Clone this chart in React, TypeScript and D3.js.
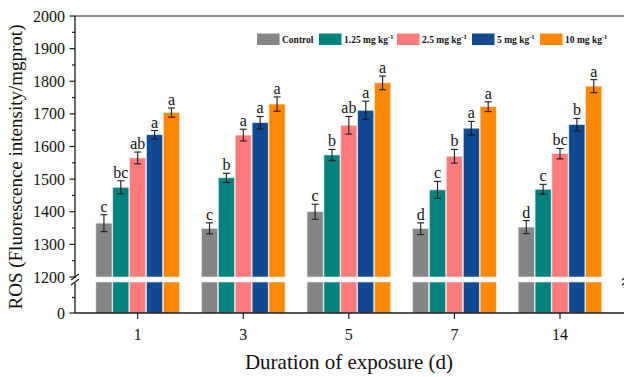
import React from 'react';
import * as d3 from 'd3';

const days = ['1', '3', '5', '7', '14'];
const seriesNames = ['Control', '1.25 mg kg', '2.5 mg kg', '5 mg kg', '10 mg kg'];
const seriesSup = ['', '-1', '-1', '-1', '-1'];
const colors = ['#858585', '#00837E', '#FF7B7B', '#0F4A92', '#FF8800'];

const controlMean = [1365, 1349, 1400, 1348, 1353];
const controlErr = [26, 17, 23, 18, 20];
const controlSig = ['c', 'c', 'c', 'd', 'd'];

const dose125Mean = [1475, 1504, 1574, 1467, 1469];
const dose125Err = [20, 14, 17, 26, 15];
const dose125Sig = ['bc', 'b', 'b', 'c', 'c'];

const dose25Mean = [1565, 1635, 1665, 1570, 1578];
const dose25Err = [18, 18, 27, 21, 16];
const dose25Sig = ['ab', 'a', 'ab', 'b', 'bc'];

const dose5Mean = [1636, 1673, 1711, 1656, 1667];
const dose5Err = [13, 19, 28, 21, 19];
const dose5Sig = ['a', 'a', 'a', 'a', 'b'];

const dose10Mean = [1704, 1730, 1795, 1722, 1785];
const dose10Err = [14, 22, 21, 15, 20];
const dose10Sig = ['a', 'a', 'a', 'a', 'a'];

const upperTicks = [1200, 1300, 1400, 1500, 1600, 1700, 1800, 1900, 2000];
const upperMinor = [1250, 1350, 1450, 1550, 1650, 1750, 1850, 1950];
const lowerTicks = [0];
const lowerMinor = [50];

const means = [controlMean, dose125Mean, dose25Mean, dose5Mean, dose10Mean];
const errs = [controlErr, dose125Err, dose25Err, dose5Err, dose10Err];
const sigs = [controlSig, dose125Sig, dose25Sig, dose5Sig, dose10Sig];

const FONT = '"Liberation Serif", "Times New Roman", serif';

export default function App() {
  const W = 624;
  const H = 377;
  const axisX = 75;
  const yUp = d3.scaleLinear().domain([1200, 2000]).range([277, 16]);
  const yLo = d3.scaleLinear().domain([0, 100]).range([313, 282]);
  const x = d3.scalePoint<string>().domain(days).range([137.7, 560]).padding(0);
  const inner = d3.scaleBand<number>().domain([0, 1, 2, 3, 4]).range([-42.2, 42.2]).padding(0);
  const bw = inner.bandwidth();
  const stroke = '#1a1a1a';

  const legendX = [257, 319, 397, 472, 540];

  return (
    <svg width={W} height={H} style={{ position: 'absolute', left: 0, top: 0, background: '#fff' }} fontFamily={FONT}>
      <rect width={W} height={H} fill="#fff" />
      {/* bars */}
      {days.map((d, di) =>
        means.map((m, si) => {
          const bx = (x(d) as number) + (inner(si) as number);
          const v = m[di];
          const e = errs[si][di];
          const cx = bx + bw / 2;
          const top = yUp(v + e);
          const bot = yUp(v - e);
          return (
            <g key={`${di}-${si}`}>
              <rect x={bx + 0.4} y={yUp(v)} width={bw - 0.8} height={yUp(1200) - yUp(v)} fill={colors[si]} stroke="#e8e8e8" strokeWidth={0.6} />
              <rect x={bx + 0.4} y={yLo(100)} width={bw - 0.8} height={yLo(0) - yLo(100)} fill={colors[si]} stroke="#e8e8e8" strokeWidth={0.6} />
              <line x1={cx} x2={cx} y1={top} y2={bot} stroke={stroke} strokeWidth={1.1} />
              <line x1={cx - 3.5} x2={cx + 3.5} y1={top} y2={top} stroke={stroke} strokeWidth={1.1} />
              <line x1={cx - 3.5} x2={cx + 3.5} y1={bot} y2={bot} stroke={stroke} strokeWidth={1.1} />
              <text x={cx} y={top - 3} textAnchor="middle" fontSize={16} fill="#111">{sigs[si][di]}</text>
            </g>
          );
        })
      )}
      {/* frame */}
      <line x1={axisX} x2={W} y1={yUp(2000)} y2={yUp(2000)} stroke={stroke} strokeWidth={1.2} />
      <line x1={axisX} x2={W} y1={yLo(0)} y2={yLo(0)} stroke={stroke} strokeWidth={1.3} />
      <line x1={axisX} x2={axisX} y1={yUp(2000)} y2={yUp(1200) + 1} stroke={stroke} strokeWidth={1.3} />
      <line x1={axisX} x2={axisX} y1={yLo(100) + 1} y2={yLo(0)} stroke={stroke} strokeWidth={1.3} />
      {/* break marks */}
      <line x1={axisX - 4} x2={axisX + 4} y1={yUp(1200) + 3} y2={yUp(1200) - 3} stroke={stroke} strokeWidth={1.1} />
      <line x1={axisX - 4} x2={axisX + 4} y1={yLo(100) + 3} y2={yLo(100) - 3} stroke={stroke} strokeWidth={1.1} />
      <line x1={W + 2 - 4} x2={W + 2 + 4} y1={yUp(1200) + 3} y2={yUp(1200) - 3} stroke={stroke} strokeWidth={1.1} />
      <line x1={W + 2 - 4} x2={W + 2 + 4} y1={yLo(100) + 3} y2={yLo(100) - 3} stroke={stroke} strokeWidth={1.1} />
      {/* y ticks */}
      {upperTicks.map((t) => (
        <g key={`u${t}`}>
          <line x1={axisX - 5.5} x2={axisX} y1={yUp(t)} y2={yUp(t)} stroke={stroke} strokeWidth={1.2} />
          <text x={65} y={yUp(t)} dy="0.35em" textAnchor="end" fontSize={16} fill="#111">{t}</text>
        </g>
      ))}
      {upperMinor.map((t) => (
        <line key={`um${t}`} x1={axisX - 3} x2={axisX} y1={yUp(t)} y2={yUp(t)} stroke={stroke} strokeWidth={1.2} />
      ))}
      {lowerTicks.map((t) => (
        <g key={`l${t}`}>
          <line x1={axisX - 5.5} x2={axisX} y1={yLo(t)} y2={yLo(t)} stroke={stroke} strokeWidth={1.2} />
          <text x={65} y={yLo(t)} dy="0.35em" textAnchor="end" fontSize={16} fill="#111">{t}</text>
        </g>
      ))}
      {lowerMinor.map((t) => (
        <line key={`lm${t}`} x1={axisX - 3} x2={axisX} y1={yLo(t)} y2={yLo(t)} stroke={stroke} strokeWidth={1.2} />
      ))}
      {/* x ticks */}
      {days.map((d) => (
        <g key={`x${d}`}>
          <line x1={x(d)} x2={x(d)} y1={yLo(0)} y2={yLo(0) + 6} stroke={stroke} strokeWidth={1.2} />
          <text x={x(d)} y={334} dy="0.35em" textAnchor="middle" fontSize={16} fill="#111">{d}</text>
        </g>
      ))}
      {/* titles */}
      <text x={349} y={362} dy="0.35em" textAnchor="middle" fontSize={21} fill="#111">Duration of exposure (d)</text>
      <text transform="translate(15,167) rotate(-90)" textAnchor="middle" dy="0.35em" fontSize={19} fill="#111">ROS (Fluorescence intensity/mgprot)</text>
      {/* legend */}
      {seriesNames.map((n, i) => (
        <g key={`lg${i}`}>
          <rect x={legendX[i]} y={33.5} width={22.5} height={11.5} fill={colors[i]} />
          <text x={legendX[i] + 25} y={43} fontSize={9.5} fontWeight="bold" fill="#111">
            {n}
            {seriesSup[i] && <tspan dy={-4} fontSize={6.5}>{seriesSup[i]}</tspan>}
          </text>
        </g>
      ))}
    </svg>
  );
}
